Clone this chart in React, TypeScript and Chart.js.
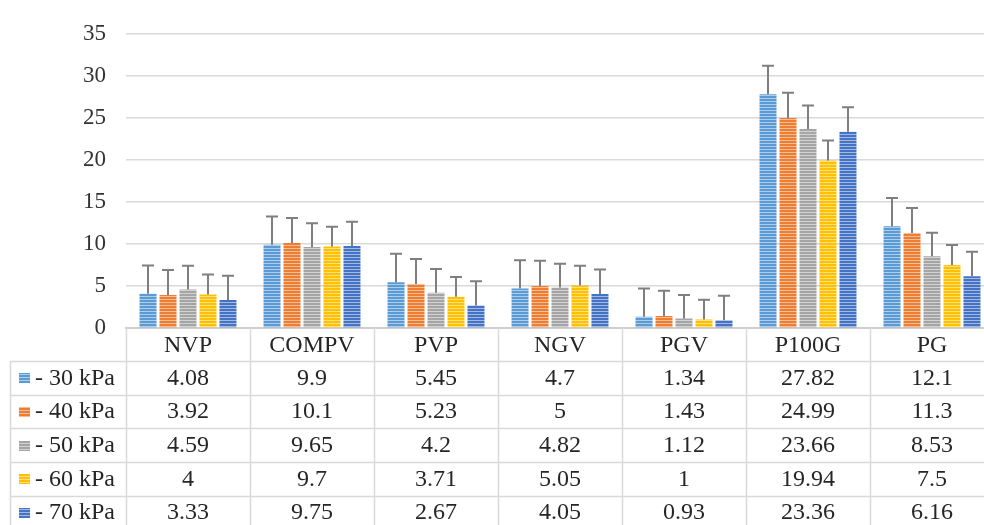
import React, { useEffect, useRef } from "react";
import { Chart, registerables } from "chart.js";

Chart.register(...registerables);

// ---------- data ----------
const categories = ["NVP", "COMPV", "PVP", "NGV", "PGV", "P100G", "PG"];
const seriesNames = ["- 30 kPa", "- 40 kPa", "- 50 kPa", "- 60 kPa", "- 70 kPa"];
const kpa30 = [4.08, 9.9, 5.45, 4.7, 1.34, 27.82, 12.1];
const kpa40 = [3.92, 10.1, 5.23, 5, 1.43, 24.99, 11.3];
const kpa50 = [4.59, 9.65, 4.2, 4.82, 1.12, 23.66, 8.53];
const kpa60 = [4, 9.7, 3.71, 5.05, 1, 19.94, 7.5];
const kpa70 = [3.33, 9.75, 2.67, 4.05, 0.93, 23.36, 6.16];
// positive error bar length per series (same for every category)
const errorBars = [3.37, 2.99, 2.81, 2.36, 2.9];
const yMin = 0;
const yMax = 35;
const yStep = 5;

const seriesValues = [kpa30, kpa40, kpa50, kpa60, kpa70];
const seriesColors = ["#5B9BD5", "#ED7D31", "#A5A5A5", "#FFC000", "#4472C4"];

const FONT = "'Liberation Serif', 'Times New Roman', serif";
const TEXT_COLOR = "#262626";
const TICK_COLOR = "#333333";
const LINE_COLOR = "#d9d9d9";

function makePattern(color: string): CanvasPattern | string {
  const c = document.createElement("canvas");
  c.width = 4;
  c.height = 3;
  const g = c.getContext("2d");
  if (!g) return color;
  g.fillStyle = color;
  g.fillRect(0, 0, 4, 3);
  g.fillStyle = "rgba(255,255,255,0.5)";
  g.fillRect(0, 2, 4, 1);
  return g.createPattern(c, "repeat") || color;
}

const errorBarPlugin = {
  id: "errorBars",
  afterDatasetsDraw(chart: any) {
    const ctx = chart.ctx;
    const yScale = chart.scales.y;
    ctx.save();
    ctx.strokeStyle = "#7f7f7f";
    ctx.lineWidth = 2;
    chart.data.datasets.forEach((ds: any, di: number) => {
      const meta = chart.getDatasetMeta(di);
      meta.data.forEach((bar: any, i: number) => {
        const v = ds.data[i];
        const top = yScale.getPixelForValue(v + errorBars[di]);
        const base = yScale.getPixelForValue(v);
        const x = Math.round(bar.x);
        ctx.beginPath();
        ctx.moveTo(x, base);
        ctx.lineTo(x, top);
        ctx.moveTo(x - 6, top);
        ctx.lineTo(x + 6, top);
        ctx.stroke();
      });
    });
    ctx.restore();
  },
};

const tablePlugin = {
  id: "dataTable",
  afterDraw(chart: any) {
    const ctx = chart.ctx;
    const xs = chart.scales.x;
    const area = chart.chartArea;
    const n = categories.length;
    const colW = (area.right - area.left) / n;
    const tableLeft = 10;
    const headerTop = area.bottom;
    const headerH = 33;
    const rowH = 33.7;
    const bottom = chart.height;
    const patterns = chart.data.datasets.map((d: any) => d.backgroundColor);

    ctx.save();
    ctx.strokeStyle = LINE_COLOR;
    ctx.lineWidth = 1.5;
    // horizontal lines
    for (let r = 0; r <= seriesNames.length; r++) {
      const y = Math.round(headerTop + headerH + r * rowH) + 0.5;
      ctx.beginPath();
      ctx.moveTo(tableLeft, y);
      ctx.lineTo(area.right, y);
      ctx.stroke();
    }
    // vertical lines
    for (let c = 0; c <= n; c++) {
      const x = Math.round(area.left + c * colW) + 0.5;
      ctx.beginPath();
      ctx.moveTo(x, headerTop);
      ctx.lineTo(x, bottom);
      ctx.stroke();
    }
    ctx.beginPath();
    ctx.moveTo(tableLeft + 0.5, headerTop + headerH);
    ctx.lineTo(tableLeft + 0.5, bottom);
    ctx.stroke();

    ctx.fillStyle = TEXT_COLOR;
    ctx.font = `24px ${FONT}`;
    ctx.textBaseline = "middle";
    ctx.textAlign = "center";
    // header
    categories.forEach((cat, i) => {
      const cx = xs.getPixelForValue(i);
      ctx.fillText(cat, cx, headerTop + headerH / 2 + 1);
    });
    // rows
    seriesNames.forEach((name, r) => {
      const cy = headerTop + headerH + r * rowH + rowH / 2 + 0.5;
      ctx.textAlign = "center";
      ctx.fillStyle = TEXT_COLOR;
      seriesValues[r].forEach((v, i) => {
        const cx = xs.getPixelForValue(i);
        ctx.fillText(String(v), cx, cy);
      });
      // legend key
      ctx.fillStyle = patterns[r];
      ctx.fillRect(19, Math.round(cy - 5), 11, 10);
      ctx.fillStyle = TEXT_COLOR;
      ctx.textAlign = "left";
      ctx.fillText(name, 35, cy);
    });
    ctx.restore();
  },
};

export default function App() {
  const ref = useRef<HTMLCanvasElement | null>(null);

  useEffect(() => {
    document.body.style.margin = "0";
    const canvas = ref.current;
    if (!canvas) return;
    const patterns = seriesColors.map(makePattern);
    const chart = new Chart(canvas, {
      type: "bar",
      data: {
        labels: categories,
        datasets: seriesNames.map((name, i) => ({
          label: name,
          data: seriesValues[i],
          backgroundColor: patterns[i] as any,
          borderWidth: 0,
          categoryPercentage: 0.806,
          barPercentage: 0.85,
        })),
      },
      options: {
        responsive: false,
        animation: false,
        devicePixelRatio: 1,
        layout: { padding: { left: 0, right: 6, top: 22, bottom: 0 } },
        plugins: {
          legend: { display: false },
          tooltip: { enabled: false },
          title: { display: false },
        },
        scales: {
          x: {
            ticks: { display: false },
            grid: { display: false },
            border: { display: true, color: "#cfcfcf", width: 2 },
            afterFit: (s: any) => {
              s.height = 197;
            },
          },
          y: {
            min: yMin,
            max: yMax,
            ticks: {
              stepSize: yStep,
              padding: 20,
              color: TICK_COLOR,
              font: { family: FONT, size: 23 },
            },
            grid: { color: LINE_COLOR, lineWidth: 1.5, drawTicks: false },
            border: { display: false },
            afterFit: (s: any) => {
              s.width = 126;
            },
          },
        },
      },
      plugins: [errorBarPlugin, tablePlugin],
    });
    return () => chart.destroy();
  }, []);

  return (
    <div
      style={{
        position: "fixed",
        left: 0,
        top: 0,
        width: 984,
        height: 525,
        overflow: "hidden",
        background: "#fff",
      }}
    >
      <canvas ref={ref} width={1000} height={525} style={{ width: 1000, height: 525, display: "block" }} />
    </div>
  );
}
